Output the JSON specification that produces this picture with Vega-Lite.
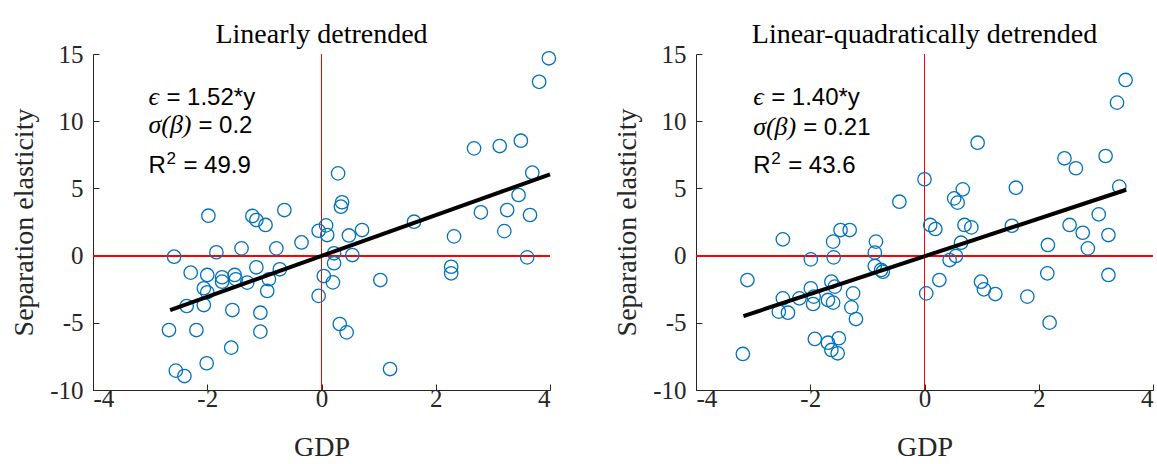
{
  "$schema": "https://vega.github.io/schema/vega-lite/v6.json",
  "background": "white",
  "padding": {"left": 10, "top": 21, "right": 5, "bottom": 5},
  "bounds": "flush",
  "spacing": 146,
  "config": {
    "view": {"stroke": null},
    "font": "Liberation Serif",
    "axis": {
      "grid": false,
      "domainColor": "#262626",
      "tickColor": "#262626",
      "labelColor": "#262626",
      "titleColor": "#262626",
      "labelFont": "Liberation Serif",
      "titleFont": "Liberation Serif",
      "labelFontSize": 25,
      "titleFontSize": 28,
      "titleFontWeight": "normal",
      "tickSize": -6,
      "labelPadding": 16,
      "domainWidth": 1,
      "tickWidth": 1,
      "labelExpr": "'' + datum.value"
    },
    "axisX": {"labelPadding": 2, "titlePadding": 22},
    "axisY": {"titlePadding": 11},
    "title": {"font": "Liberation Serif", "fontSize": 28, "fontWeight": "normal", "color": "#000000", "offset": -7}
  },
  "datasets": {
    "linear": [
      {"gdp": 3.98, "elasticity": 14.68}, {"gdp": 3.81, "elasticity": 12.93}, {"gdp": 2.67, "elasticity": 7.98},
      {"gdp": 3.12, "elasticity": 8.15}, {"gdp": 3.49, "elasticity": 8.55}, {"gdp": 3.69, "elasticity": 6.17},
      {"gdp": 3.45, "elasticity": 4.51}, {"gdp": 3.25, "elasticity": 3.39}, {"gdp": 2.79, "elasticity": 3.22},
      {"gdp": 3.65, "elasticity": 3.02}, {"gdp": 0.29, "elasticity": 6.12}, {"gdp": 0.36, "elasticity": 3.97},
      {"gdp": 0.34, "elasticity": 3.64}, {"gdp": 1.62, "elasticity": 2.52}, {"gdp": 0.71, "elasticity": 1.9},
      {"gdp": 0.48, "elasticity": 1.5}, {"gdp": 0.08, "elasticity": 2.25}, {"gdp": -0.05, "elasticity": 1.85},
      {"gdp": 0.1, "elasticity": 1.53}, {"gdp": 2.32, "elasticity": 1.43}, {"gdp": 3.2, "elasticity": 1.82},
      {"gdp": -0.35, "elasticity": 0.98}, {"gdp": 0.22, "elasticity": 0.17}, {"gdp": 0.54, "elasticity": 0.04},
      {"gdp": 0.22, "elasticity": -0.57}, {"gdp": 0.04, "elasticity": -1.52}, {"gdp": 0.2, "elasticity": -1.99},
      {"gdp": -0.05, "elasticity": -3.0}, {"gdp": 1.03, "elasticity": -1.82}, {"gdp": 2.27, "elasticity": -0.83},
      {"gdp": 2.27, "elasticity": -1.32}, {"gdp": 3.6, "elasticity": -0.13}, {"gdp": 0.32, "elasticity": -5.09},
      {"gdp": 0.44, "elasticity": -5.71}, {"gdp": 1.2, "elasticity": -8.44}, {"gdp": -0.79, "elasticity": 0.54},
      {"gdp": -1.4, "elasticity": 0.54}, {"gdp": -1.84, "elasticity": 0.25}, {"gdp": -2.58, "elasticity": -0.08},
      {"gdp": -2.29, "elasticity": -1.27}, {"gdp": -2.0, "elasticity": -1.44}, {"gdp": -1.74, "elasticity": -1.61},
      {"gdp": -1.52, "elasticity": -1.44}, {"gdp": -1.5, "elasticity": -1.76}, {"gdp": -1.3, "elasticity": -2.01},
      {"gdp": -1.14, "elasticity": -0.87}, {"gdp": -0.73, "elasticity": -1.02}, {"gdp": -0.92, "elasticity": -1.76},
      {"gdp": -0.95, "elasticity": -2.63}, {"gdp": -1.74, "elasticity": -1.94}, {"gdp": -2.06, "elasticity": -2.43},
      {"gdp": -2.0, "elasticity": -2.73}, {"gdp": -2.06, "elasticity": -3.68}, {"gdp": -2.36, "elasticity": -3.75},
      {"gdp": -1.56, "elasticity": -4.05}, {"gdp": -1.07, "elasticity": -4.25}, {"gdp": -2.67, "elasticity": -5.54},
      {"gdp": -2.19, "elasticity": -5.54}, {"gdp": -1.07, "elasticity": -5.66}, {"gdp": -1.58, "elasticity": -6.85},
      {"gdp": -2.01, "elasticity": -8.01}, {"gdp": -2.55, "elasticity": -8.56}, {"gdp": -2.4, "elasticity": -8.96},
      {"gdp": -1.98, "elasticity": 2.97}, {"gdp": -1.21, "elasticity": 2.95}, {"gdp": -1.14, "elasticity": 2.65},
      {"gdp": -0.98, "elasticity": 2.28}, {"gdp": -0.65, "elasticity": 3.39}
    ],
    "quad": [
      {"gdp": 3.52, "elasticity": 13.07}, {"gdp": 3.37, "elasticity": 11.38}, {"gdp": 0.93, "elasticity": 8.4},
      {"gdp": 2.45, "elasticity": 7.24}, {"gdp": 2.65, "elasticity": 6.5}, {"gdp": 3.17, "elasticity": 7.41},
      {"gdp": 3.41, "elasticity": 5.13}, {"gdp": 0.0, "elasticity": 5.68}, {"gdp": 1.6, "elasticity": 5.05},
      {"gdp": 0.67, "elasticity": 4.93}, {"gdp": 0.52, "elasticity": 4.26}, {"gdp": 0.58, "elasticity": 3.94},
      {"gdp": -0.44, "elasticity": 4.01}, {"gdp": 3.05, "elasticity": 3.07}, {"gdp": 0.1, "elasticity": 2.28},
      {"gdp": 0.19, "elasticity": 1.98}, {"gdp": 0.7, "elasticity": 2.28}, {"gdp": 0.82, "elasticity": 2.1},
      {"gdp": 1.53, "elasticity": 2.22}, {"gdp": 2.54, "elasticity": 2.28}, {"gdp": 2.77, "elasticity": 1.7},
      {"gdp": 3.22, "elasticity": 1.53}, {"gdp": 2.16, "elasticity": 0.79}, {"gdp": 0.64, "elasticity": 0.96},
      {"gdp": 2.86, "elasticity": 0.54}, {"gdp": 0.44, "elasticity": -0.33}, {"gdp": 0.55, "elasticity": -0.03},
      {"gdp": 0.26, "elasticity": -1.82}, {"gdp": 0.03, "elasticity": -2.81}, {"gdp": 0.99, "elasticity": -1.94},
      {"gdp": 1.04, "elasticity": -2.51}, {"gdp": 1.24, "elasticity": -2.86}, {"gdp": 2.15, "elasticity": -1.32},
      {"gdp": 3.22, "elasticity": -1.44}, {"gdp": 1.8, "elasticity": -3.05}, {"gdp": 2.19, "elasticity": -4.99},
      {"gdp": -2.48, "elasticity": 1.21}, {"gdp": -1.6, "elasticity": 1.04}, {"gdp": -1.47, "elasticity": 1.9},
      {"gdp": -1.31, "elasticity": 1.9}, {"gdp": -0.85, "elasticity": 1.04}, {"gdp": -0.87, "elasticity": 0.22},
      {"gdp": -1.99, "elasticity": -0.28}, {"gdp": -1.59, "elasticity": -0.13}, {"gdp": -0.87, "elasticity": -0.77},
      {"gdp": -0.76, "elasticity": -1.07}, {"gdp": -0.73, "elasticity": -1.2}, {"gdp": -3.1, "elasticity": -1.82},
      {"gdp": -1.99, "elasticity": -2.43}, {"gdp": -1.63, "elasticity": -1.94}, {"gdp": -1.57, "elasticity": -2.31},
      {"gdp": -1.25, "elasticity": -2.81}, {"gdp": -1.94, "elasticity": -3.05}, {"gdp": -2.19, "elasticity": -3.18},
      {"gdp": -2.48, "elasticity": -3.18}, {"gdp": -1.95, "elasticity": -3.6}, {"gdp": -1.69, "elasticity": -3.3},
      {"gdp": -1.6, "elasticity": -3.5}, {"gdp": -2.55, "elasticity": -4.17}, {"gdp": -2.39, "elasticity": -4.25},
      {"gdp": -1.28, "elasticity": -3.85}, {"gdp": -1.2, "elasticity": -4.72}, {"gdp": -1.92, "elasticity": -6.2},
      {"gdp": -1.5, "elasticity": -6.15}, {"gdp": -1.69, "elasticity": -6.48}, {"gdp": -1.63, "elasticity": -7.02},
      {"gdp": -1.52, "elasticity": -7.27}, {"gdp": -3.18, "elasticity": -7.32}
    ]
  },
  "hconcat": [
    {
      "title": "Linearly detrended",
      "width": 457,
      "height": 336,
      "data": {"name": "linear"},
      "layer": [
        {
          "mark": {"type": "rule", "color": "#ff0000", "strokeWidth": 1},
          "encoding": {"y": {"datum": 0, "type": "quantitative"}}
        },
        {
          "mark": {"type": "rule", "color": "#ff0000", "strokeWidth": 1},
          "encoding": {"x": {"datum": 0, "type": "quantitative"}}
        },
        {
          "mark": {"type": "point", "shape": "circle", "filled": false, "color": "#0072BD", "size": 180, "strokeWidth": 1.3, "opacity": 1},
          "encoding": {
            "x": {"field": "gdp", "type": "quantitative", "title": "GDP",
                  "scale": {"domain": [-4, 4], "nice": false, "zero": false},
                  "axis": {"values": [-4, -2, 0, 2, 4]}},
            "y": {"field": "elasticity", "type": "quantitative", "title": "Separation elasticity",
                  "scale": {"domain": [-10, 15], "nice": false, "zero": false},
                  "axis": {"values": [-10, -5, 0, 5, 10, 15]}}
          }
        },
        {
          "data": {"values": [{"x1": -2.65, "y1": -4.05, "x2": 4.0, "y2": 6.05}]},
          "mark": {"type": "rule", "color": "#000000", "strokeWidth": 4, "strokeCap": "butt"},
          "encoding": {
            "x": {"field": "x1", "type": "quantitative"},
            "y": {"field": "y1", "type": "quantitative"},
            "x2": {"field": "x2"},
            "y2": {"field": "y2"}
          }
        },
        {
          "data": {"values": [{"label": "ϵ"}]},
          "mark": {"type": "text", "align": "left", "baseline": "alphabetic", "font": "Liberation Serif", "fontStyle": "italic", "fontSize": 26, "color": "#000000"},
          "encoding": {"x": {"datum": -3.03}, "y": {"datum": 11.2}, "text": {"field": "label"}}
        },
        {
          "data": {"values": [{"label": "= 1.52*y"}]},
          "mark": {"type": "text", "align": "left", "baseline": "alphabetic", "font": "Liberation Sans", "fontSize": 24, "color": "#000000", "dx": 18},
          "encoding": {"x": {"datum": -3.03}, "y": {"datum": 11.2}, "text": {"field": "label"}}
        },
        {
          "data": {"values": [{"label": "σ(β)"}]},
          "mark": {"type": "text", "align": "left", "baseline": "alphabetic", "font": "Liberation Serif", "fontStyle": "italic", "fontSize": 26, "color": "#000000"},
          "encoding": {"x": {"datum": -3.03}, "y": {"datum": 9.1}, "text": {"field": "label"}}
        },
        {
          "data": {"values": [{"label": "= 0.2"}]},
          "mark": {"type": "text", "align": "left", "baseline": "alphabetic", "font": "Liberation Sans", "fontSize": 24, "color": "#000000", "dx": 50},
          "encoding": {"x": {"datum": -3.03}, "y": {"datum": 9.1}, "text": {"field": "label"}}
        },
        {
          "data": {"values": [{"label": "R"}]},
          "mark": {"type": "text", "align": "left", "baseline": "alphabetic", "font": "Liberation Sans", "fontSize": 24, "color": "#000000"},
          "encoding": {"x": {"datum": -3.03}, "y": {"datum": 6.15}, "text": {"field": "label"}}
        },
        {
          "data": {"values": [{"label": "2"}]},
          "mark": {"type": "text", "align": "left", "baseline": "alphabetic", "font": "Liberation Sans", "fontSize": 17, "color": "#000000", "dx": 18, "dy": -9},
          "encoding": {"x": {"datum": -3.03}, "y": {"datum": 6.15}, "text": {"field": "label"}}
        },
        {
          "data": {"values": [{"label": "= 49.9"}]},
          "mark": {"type": "text", "align": "left", "baseline": "alphabetic", "font": "Liberation Sans", "fontSize": 24, "color": "#000000", "dx": 35},
          "encoding": {"x": {"datum": -3.03}, "y": {"datum": 6.15}, "text": {"field": "label"}}
        }
      ]
    },
    {
      "title": "Linear-quadratically detrended",
      "width": 457,
      "height": 336,
      "data": {"name": "quad"},
      "layer": [
        {
          "mark": {"type": "rule", "color": "#ff0000", "strokeWidth": 1},
          "encoding": {"y": {"datum": 0, "type": "quantitative"}}
        },
        {
          "mark": {"type": "rule", "color": "#ff0000", "strokeWidth": 1},
          "encoding": {"x": {"datum": 0, "type": "quantitative"}}
        },
        {
          "mark": {"type": "point", "shape": "circle", "filled": false, "color": "#0072BD", "size": 180, "strokeWidth": 1.3, "opacity": 1},
          "encoding": {
            "x": {"field": "gdp", "type": "quantitative", "title": "GDP",
                  "scale": {"domain": [-4, 4], "nice": false, "zero": false},
                  "axis": {"values": [-4, -2, 0, 2, 4]}},
            "y": {"field": "elasticity", "type": "quantitative", "title": "Separation elasticity",
                  "scale": {"domain": [-10, 15], "nice": false, "zero": false},
                  "axis": {"values": [-10, -5, 0, 5, 10, 15]}}
          }
        },
        {
          "data": {"values": [{"x1": -3.17, "y1": -4.5, "x2": 3.53, "y2": 4.9}]},
          "mark": {"type": "rule", "color": "#000000", "strokeWidth": 4, "strokeCap": "butt"},
          "encoding": {
            "x": {"field": "x1", "type": "quantitative"},
            "y": {"field": "y1", "type": "quantitative"},
            "x2": {"field": "x2"},
            "y2": {"field": "y2"}
          }
        },
        {
          "data": {"values": [{"label": "ϵ"}]},
          "mark": {"type": "text", "align": "left", "baseline": "alphabetic", "font": "Liberation Serif", "fontStyle": "italic", "fontSize": 26, "color": "#000000"},
          "encoding": {"x": {"datum": -3.0}, "y": {"datum": 11.2}, "text": {"field": "label"}}
        },
        {
          "data": {"values": [{"label": "= 1.40*y"}]},
          "mark": {"type": "text", "align": "left", "baseline": "alphabetic", "font": "Liberation Sans", "fontSize": 24, "color": "#000000", "dx": 18},
          "encoding": {"x": {"datum": -3.0}, "y": {"datum": 11.2}, "text": {"field": "label"}}
        },
        {
          "data": {"values": [{"label": "σ(β)"}]},
          "mark": {"type": "text", "align": "left", "baseline": "alphabetic", "font": "Liberation Serif", "fontStyle": "italic", "fontSize": 26, "color": "#000000"},
          "encoding": {"x": {"datum": -3.0}, "y": {"datum": 9.0}, "text": {"field": "label"}}
        },
        {
          "data": {"values": [{"label": "= 0.21"}]},
          "mark": {"type": "text", "align": "left", "baseline": "alphabetic", "font": "Liberation Sans", "fontSize": 24, "color": "#000000", "dx": 50},
          "encoding": {"x": {"datum": -3.0}, "y": {"datum": 9.0}, "text": {"field": "label"}}
        },
        {
          "data": {"values": [{"label": "R"}]},
          "mark": {"type": "text", "align": "left", "baseline": "alphabetic", "font": "Liberation Sans", "fontSize": 24, "color": "#000000"},
          "encoding": {"x": {"datum": -3.0}, "y": {"datum": 6.15}, "text": {"field": "label"}}
        },
        {
          "data": {"values": [{"label": "2"}]},
          "mark": {"type": "text", "align": "left", "baseline": "alphabetic", "font": "Liberation Sans", "fontSize": 17, "color": "#000000", "dx": 18, "dy": -9},
          "encoding": {"x": {"datum": -3.0}, "y": {"datum": 6.15}, "text": {"field": "label"}}
        },
        {
          "data": {"values": [{"label": "= 43.6"}]},
          "mark": {"type": "text", "align": "left", "baseline": "alphabetic", "font": "Liberation Sans", "fontSize": 24, "color": "#000000", "dx": 35},
          "encoding": {"x": {"datum": -3.0}, "y": {"datum": 6.15}, "text": {"field": "label"}}
        }
      ]
    }
  ]
}
